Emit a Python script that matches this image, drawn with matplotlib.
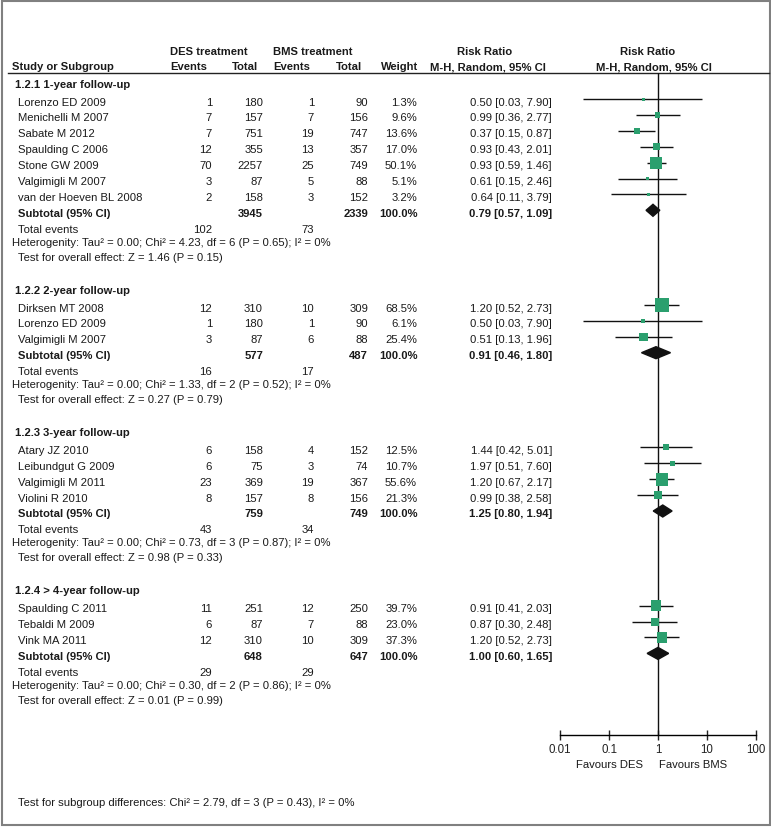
import numpy as np
import matplotlib
matplotlib.use("Agg")
from matplotlib import pyplot as plt
from matplotlib.patches import Rectangle, Polygon

plt.rcParams['font.family'] = ['Liberation Sans', 'DejaVu Sans']

# ---- data ----
group_titles = ["1.2.1 1-year follow-up", "1.2.2 2-year follow-up",
                "1.2.3 3-year follow-up", "1.2.4 > 4-year follow-up"]
group_of = [0, 0, 0, 0, 0, 0, 0, 1, 1, 1, 2, 2, 2, 2, 3, 3, 3]
studies = ["Lorenzo ED 2009", "Menichelli M 2007", "Sabate M 2012", "Spaulding C 2006",
           "Stone GW 2009", "Valgimigli M 2007", "van der Hoeven BL 2008",
           "Dirksen MT 2008", "Lorenzo ED 2009", "Valgimigli M 2007",
           "Atary JZ 2010", "Leibundgut G 2009", "Valgimigli M 2011", "Violini R 2010",
           "Spaulding C 2011", "Tebaldi M 2009", "Vink MA 2011"]
des_events = [1, 7, 7, 12, 70, 3, 2, 12, 1, 3, 6, 6, 23, 8, 11, 6, 12]
des_total = [180, 157, 751, 355, 2257, 87, 158, 310, 180, 87, 158, 75, 369, 157, 251, 87, 310]
bms_events = [1, 7, 19, 13, 25, 5, 3, 10, 1, 6, 4, 3, 19, 8, 12, 7, 10]
bms_total = [90, 156, 747, 357, 749, 88, 152, 309, 90, 88, 152, 74, 367, 156, 250, 88, 309]
weight = [1.3, 9.6, 13.6, 17.0, 50.1, 5.1, 3.2, 68.5, 6.1, 25.4, 12.5, 10.7, 55.6, 21.3, 39.7, 23.0, 37.3]
rr = [0.50, 0.99, 0.37, 0.93, 0.93, 0.61, 0.64, 1.20, 0.50, 0.51, 1.44, 1.97, 1.20, 0.99, 0.91, 0.87, 1.20]
rr_lo = [0.03, 0.36, 0.15, 0.43, 0.59, 0.15, 0.11, 0.52, 0.03, 0.13, 0.42, 0.51, 0.67, 0.38, 0.41, 0.30, 0.52]
rr_hi = [7.90, 2.77, 0.87, 2.01, 1.46, 2.46, 3.79, 2.73, 7.90, 1.96, 5.01, 7.60, 2.17, 2.58, 2.03, 2.48, 2.73]

sub_des_total = [3945, 577, 759, 648]
sub_bms_total = [2339, 487, 749, 647]
sub_rr = [0.79, 0.91, 1.25, 1.00]
sub_lo = [0.57, 0.46, 0.80, 0.60]
sub_hi = [1.09, 1.80, 1.94, 1.65]
tot_des_events = [102, 16, 43, 29]
tot_bms_events = [73, 17, 34, 29]
het_text = ["Heterogenity: Tau² = 0.00; Chi² = 4.23, df = 6 (P = 0.65); I² = 0%",
            "Heterogenity: Tau² = 0.00; Chi² = 1.33, df = 2 (P = 0.52); I² = 0%",
            "Heterogenity: Tau² = 0.00; Chi² = 0.73, df = 3 (P = 0.87); I² = 0%",
            "Heterogenity: Tau² = 0.00; Chi² = 0.30, df = 2 (P = 0.86); I² = 0%"]
z_text = ["Test for overall effect: Z = 1.46 (P = 0.15)",
          "Test for overall effect: Z = 0.27 (P = 0.79)",
          "Test for overall effect: Z = 0.98 (P = 0.33)",
          "Test for overall effect: Z = 0.01 (P = 0.99)"]
xticks = [0.01, 0.1, 1, 10, 100]
xtick_labels = ["0.01", "0.1", "1", "10", "100"]

W, H = 771, 828
fig = plt.figure(figsize=(W / 100, H / 100), dpi=100)
tx = fig.add_axes([0, 0, 1, 1])
tx.set_xlim(0, W)
tx.set_ylim(H, 0)
tx.axis('off')

top, bot = 74, 736
left_px, right_px = 560, 756
ax = fig.add_axes([left_px / W, (H - bot) / H, (right_px - left_px) / W, (bot - top) / H])
ax.set_xscale('log')
ax.set_xlim(0.01, 100)
ax.set_ylim(bot, top)
ax.patch.set_alpha(0)
for s in ['left', 'right', 'top']:
    ax.spines[s].set_visible(False)
ax.spines['bottom'].set_linewidth(1)
ax.set_yticks([])
ax.set_xticks(xticks)
ax.set_xticklabels(xtick_labels)
ax.minorticks_off()
ax.tick_params(axis='x', direction='inout', length=7, width=1, labelsize=8.3, pad=2, colors='#222222')
ax.axvline(1, color='#111111', lw=1)

fs = 8.1
col = '#1a1a1a'
green = '#2b9f6e'


def t(x, y, s, ha='left', bold=False):
    tx.text(x, y, s, ha=ha, va='center', fontsize=fs, color=col,
            fontweight='bold' if bold else 'normal')


# header
t(170, 52, "DES treatment", bold=True)
t(273, 52, "BMS treatment", bold=True)
t(485, 52, "Risk Ratio", ha='center', bold=True)
t(648, 52, "Risk Ratio", ha='center', bold=True)
t(12, 67, "Study or Subgroup", bold=True)
t(170, 67, "Events", bold=True)
t(258, 67, "Total", ha='right', bold=True)
t(273, 67, "Events", bold=True)
t(362, 67, "Total", ha='right', bold=True)
t(418, 67, "Weight", ha='right', bold=True)
t(488, 67, "M-H, Random, 95% CI", ha='center', bold=True)
t(654, 67, "M-H, Random, 95% CI", ha='center', bold=True)
tx.plot([8, 769], [74, 74], color='#222222', lw=1)

pitch = 15.9
y = 84.5
idx = np.array(group_of)
for g in range(4):
    t(15, y, group_titles[g], bold=True)
    y += 18
    for i in np.where(idx == g)[0]:
        t(18, y, studies[i])
        t(212, y, str(des_events[i]), ha='right')
        t(263, y, str(des_total[i]), ha='right')
        t(314, y, str(bms_events[i]), ha='right')
        t(368, y, str(bms_total[i]), ha='right')
        t(417, y, "%.1f%%" % weight[i], ha='right')
        t(552, y, "%.2f [%.2f, %.2f]" % (rr[i], rr_lo[i], rr_hi[i]), ha='right')
        ym = y - 2.5
        ax.plot([rr_lo[i], rr_hi[i]], [ym, ym], color='#111111', lw=1, solid_capstyle='butt')
        side = max(3.0, 14 * np.sqrt(weight[i] / 68.5))
        ax.scatter([rr[i]], [ym], marker='s', s=(side * 0.72) ** 2, color=green,
                   edgecolors='none', zorder=3)
        y += pitch
    t(18, y, "Subtotal (95% CI)", bold=True)
    t(263, y, str(sub_des_total[g]), ha='right', bold=True)
    t(368, y, str(sub_bms_total[g]), ha='right', bold=True)
    t(418, y, "100.0%", ha='right', bold=True)
    t(552, y, "%.2f [%.2f, %.2f]" % (sub_rr[g], sub_lo[g], sub_hi[g]), ha='right', bold=True)
    ym = y - 2.5
    ax.add_patch(Polygon([(sub_lo[g], ym), (sub_rr[g], ym - 6), (sub_hi[g], ym), (sub_rr[g], ym + 6)],
                         closed=True, color='#111111', zorder=4))
    y += pitch
    t(18, y, "Total events")
    t(212, y, str(tot_des_events[g]), ha='right')
    t(314, y, str(tot_bms_events[g]), ha='right')
    y += 12.8
    t(12, y, het_text[g])
    y += 15.2
    t(18, y, z_text[g])
    y += 32.8

t(610, 765, "Favours DES", ha='center')
t(693, 765, "Favours BMS", ha='center')
t(18, 803, "Test for subgroup differences: Chi² = 2.79, df = 3 (P = 0.43), I² = 0%")

tx.add_patch(Rectangle((1.5, 1.5), W - 3, H - 3, fill=False, edgecolor='#808080', lw=1.5))

fig.savefig("out.png", dpi=100)
